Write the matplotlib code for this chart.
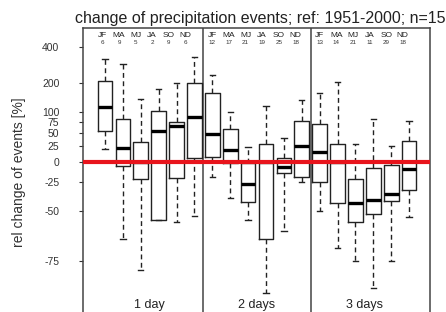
# boxplots of relative change in precipitation events
import numpy as np
import matplotlib
matplotlib.use("Agg")
import matplotlib.pyplot as plt
from matplotlib.transforms import blended_transform_factory

plt.rcParams['font.family'] = ['Liberation Sans', 'DejaVu Sans']

seasons = ["JF", "MA", "MJ", "JA", "SO", "ND"]
groups = ["1 day", "2 days", "3 days"]
counts = [6, 9, 5, 2, 9, 6,
          12, 17, 21, 19, 25, 18,
          13, 14, 21, 11, 29, 18]

# box stats per season, 1 day | 2 days | 3 days
whis_hi = [323, 294, 142, 178, 202, 335,
           238, 101, 23, 119, 40, 138,
           163, 207, 29, 83, 25, 78]
q3 = [211, 83, 32, 104, 75, 202,
      163, 59, -1, 29, 6, 78,
      70, 29, -21, -8, -4, 34]
med = [116, 22, 0, 54, 66, 88,
       48, 18, -27, 0, -7, 25,
       15, 0, -44, -41, -36, -9]
q1 = [54, -5, -21, -56, -20, 6,
      7, -1, -43, -66, -14, -19,
      -25, -44, -57, -52, -42, -33]
whis_lo = [20, -66, -78, -56, -57, -53,
           -19, -40, -56, -84, -62, -25,
           -50, -70, -75, -83, -75, -54]

yticks = [-75, -50, -25, 0, 25, 50, 75, 100, 200, 400]


def fwd(x):
    return np.log(np.clip(1 + np.asarray(x) / 100.0, 1e-6, None))


def inv(y):
    return 100.0 * (np.exp(y) - 1)


fig = plt.figure(figsize=(4.46, 3.12), dpi=100)
ax = fig.add_axes([83 / 446, 0.0, 347 / 446, 1 - 28 / 312])
ax.set_yscale('function', functions=(fwd, inv))

stats = []
for i in range(len(med)):
    stats.append(dict(med=med[i], q1=q1[i], q3=q3[i],
                      whislo=whis_lo[i], whishi=whis_hi[i], fliers=[]))
pos = np.arange(1, len(med) + 1)
ax.bxp(stats, positions=pos, widths=0.82, showfliers=False,
       capwidths=0.3,
       boxprops=dict(color='#222222', linewidth=1.0),
       medianprops=dict(color='black', linewidth=2.4, solid_capstyle='butt'),
       whiskerprops=dict(color='#222222', linewidth=1.0, linestyle=(0, (3.5, 2.5))),
       capprops=dict(color='#222222', linewidth=1.0))

ax.axhline(0, color='#e8141c', linewidth=3.0, zorder=5)
for d in [6.5, 12.5]:
    ax.axvline(d, color='#444444', linewidth=1.1, zorder=1)

ax.set_xlim(-0.23, 19.17)
ax.set_ylim(-87.8, 553)
ax.set_yticks(yticks)
ax.set_yticklabels([str(t) for t in yticks])
ax.yaxis.set_minor_locator(matplotlib.ticker.NullLocator())
ax.tick_params(axis='y', length=3, width=0.8, pad=14, labelsize=7.5,
               colors='#333333')
ax.set_xticks([])
ax.spines['bottom'].set_visible(False)
for s in ['left', 'right', 'top']:
    ax.spines[s].set_color('#444444')
    ax.spines[s].set_linewidth(1.1)

tr = blended_transform_factory(ax.transData, ax.transAxes)
for g, name in enumerate(groups):
    ax.text(g * 6 + 3.5, 0.025, name, transform=tr, ha='center', va='center',
            fontsize=9, color='#222222')
    for k, s in enumerate(seasons):
        xl = g * 6 + 1 + k * 0.93 - (0.15 if g == 0 else 0)
        ax.text(xl, 0.974, s, transform=tr, ha='center', va='center',
                fontsize=6, color='#222222')
        ax.text(xl, 0.949, str(counts[g * 6 + k]), transform=tr, ha='center',
                va='center', fontsize=4.5, color='#333333')

fig.text(260 / 446, 1 - 18 / 312, "change of precipitation events; ref: 1951-2000; n=15",
         ha='center', va='center', fontsize=11.5, color='#222222')
fig.text(19 / 446, 1 - 172 / 312, "rel change of events [%]", rotation=90,
         ha='center', va='center', fontsize=10, color='#333333')

fig.savefig("out.png", dpi=100)
